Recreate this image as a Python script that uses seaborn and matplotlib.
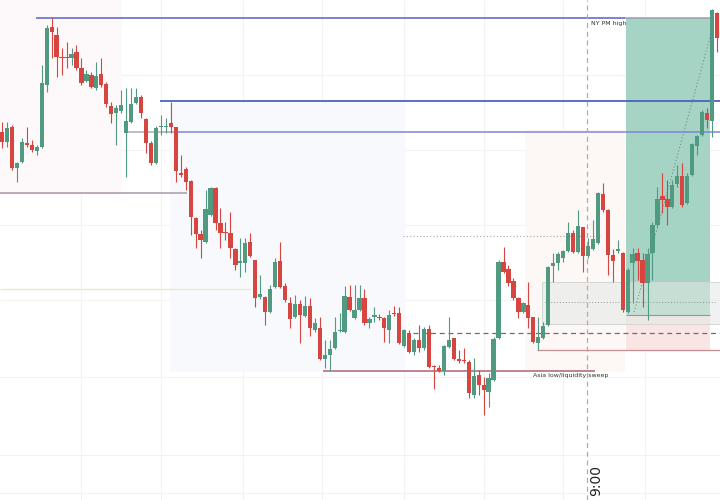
import numpy as np
import pandas as pd
import matplotlib
matplotlib.use("Agg")
import matplotlib.pyplot as plt
import seaborn as sns

# OHLC (price units = chart points)
opens = [368, 358, 373, 332, 338, 357, 355, 349, 353, 415, 473, 465, 443, 443, 442, 448, 432, 419, 425, 412,
         426, 416, 394, 387, 389, 367, 378, 397, 403, 381, 357, 337, 373, 373, 377, 373, 327, 331, 319, 282,
         266, 258, 285, 312, 277, 268, 267, 251, 237, 237, 258, 240, 203, 203, 188, 213, 239, 214, 197, 183,
         196, 184, 194, 170, 172, 141, 145, 152, 169, 168, 203, 182, 190, 202, 177, 183, 183, 182, 170, 187,
         187, 154, 167, 148, 160, 152, 171, 134, 132, 129, 153, 162, 141, 140, 138, 105, 125, 115, 108, 120,
         162, 238, 231, 219, 202, 188, 195, 183, 157, 162, 175, 234, 237, 242, 249, 267, 248, 273, 244, 251,
         257, 306, 290, 245, 249, 247, 188, 237, 247, 240, 217, 247, 275, 304, 301, 293, 316, 324, 297, 325,
         354, 365, 387, 379, 487]
highs = [378, 378, 375, 338, 362, 373, 360, 355, 435, 475, 482, 473, 452, 458, 452, 455, 442, 430, 428, 438,
         442, 418, 398, 395, 410, 412, 412, 412, 405, 382, 359, 374, 385, 382, 398, 373, 345, 333, 320, 283,
         270, 310, 313, 313, 292, 278, 288, 252, 262, 262, 267, 240, 225, 204, 215, 242, 258, 217, 203, 205,
         200, 204, 202, 182, 183, 160, 160, 183, 187, 214, 215, 215, 215, 211, 183, 193, 186, 183, 190, 194,
         193, 171, 170, 162, 175, 173, 175, 135, 135, 155, 183, 162, 150, 152, 140, 142, 130, 123, 127, 163,
         240, 253, 235, 222, 203, 198, 218, 183, 183, 178, 234, 247, 248, 250, 278, 270, 290, 273, 262, 280,
         308, 317, 291, 251, 260, 248, 232, 252, 252, 247, 252, 278, 313, 327, 320, 320, 335, 337, 327, 357,
         365, 390, 392, 491, 488]
lows = [352, 353, 330, 318, 337, 353, 348, 345, 352, 408, 442, 423, 425, 432, 435, 430, 415, 418, 412, 410,
        413, 393, 377, 355, 387, 323, 377, 396, 382, 347, 335, 336, 365, 367, 367, 318, 323, 310, 265, 252,
        242, 257, 284, 270, 252, 260, 242, 230, 223, 228, 243, 193, 201, 175, 187, 212, 212, 198, 172, 182,
        157, 183, 164, 168, 140, 132, 130, 151, 168, 167, 189, 181, 189, 175, 172, 178, 180, 158, 157, 184,
        156, 153, 147, 145, 148, 150, 132, 111, 128, 125, 152, 140, 137, 137, 102, 102, 105, 85, 93, 119,
        161, 227, 214, 200, 182, 187, 172, 157, 150, 161, 174, 218, 230, 238, 248, 247, 247, 228, 242, 250,
        256, 288, 225, 218, 247, 188, 187, 197, 220, 193, 180, 220, 273, 287, 275, 292, 313, 293, 296, 324,
        345, 364, 372, 363, 448]
closes = [358, 372, 332, 337, 358, 355, 350, 353, 417, 472, 468, 443, 442, 442, 446, 432, 417, 426, 413, 424,
          415, 396, 386, 392, 395, 379, 396, 403, 387, 357, 337, 372, 374, 374, 373, 329, 325, 318, 283, 266,
          260, 291, 312, 277, 267, 267, 252, 235, 239, 257, 244, 202, 206, 188, 211, 238, 213, 200, 181, 196,
          185, 194, 172, 177, 141, 145, 151, 168, 170, 204, 190, 190, 202, 177, 181, 185, 182, 172, 185, 186,
          157, 170, 148, 160, 152, 171, 133, 133, 129, 154, 160, 141, 139, 139, 107, 124, 115, 110, 122, 161,
          238, 228, 217, 202, 188, 197, 182, 158, 163, 174, 233, 237, 246, 249, 267, 248, 274, 244, 254, 261,
          307, 290, 245, 239, 251, 190, 230, 246, 239, 217, 246, 275, 301, 300, 293, 315, 324, 295, 324, 356,
          364, 388, 380, 490, 462]

# key levels drawn on the chart
ny_pm_high = 482
upper_level = 399
mid_level = 368
left_level = 307
yellow_level = 211
asia_low = 129
dashed_level = 167
dotted_level = 264
entry_price = 185
target_price = 482
stop_price = 150

df = pd.DataFrame({"open": opens, "high": highs, "low": lows, "close": closes})
df["bar"] = np.arange(len(df))
df["up"] = df["close"] >= df["open"]

green = "#4f9a80"
red = "#d6453f"

sns.set_theme(style="white")
plt.rcParams["font.family"] = ["DejaVu Sans"]

fig = plt.figure(figsize=(7.2, 5), dpi=100)
ax = fig.add_axes([0, 0, 1, 1])
ax.set_xlim(-0.4, 144.6)
ax.set_ylim(0, 500)
ax.set_facecolor("white")

# faint grid
for gx in [16, 32, 48.5, 64.5, 81, 97, 113, 129.5]:
    ax.axvline(gx, color="#f3f3f6", lw=0.8, zorder=0)
for gy in [425, 350, 275, 200, 123, 45, 7]:
    ax.axhline(gy, color="#f3f3f6", lw=0.8, zorder=0)

# session shading (very faint)
ax.fill_between([-0.4, 24.2], 305, 500, color="#fdf8fa", zorder=0.5, lw=0)
ax.fill_between([33.8, 81.2], 128, 400, color="#f8f9fd", zorder=0.5, lw=0)
ax.fill_between([105.3, 125.5], 128, 370, color="#fdf7f6", zorder=0.5, lw=0)

# long position box
ax.fill_between([125.7, 142.6], entry_price, target_price, color="#a5d3c4", zorder=0.8, lw=0)
ax.fill_between([125.7, 142.6], stop_price, entry_price, color="#fae5e5", zorder=0.8, lw=0)
ax.hlines(entry_price, 125.7, 142.6, color="#8a9a94", lw=0.8, zorder=1)

# gray zone box
ax.fill_between([108.8, 144.6], 176, 218, color="#e3e9e4", alpha=0.55, zorder=0.9, lw=0)
ax.hlines([176, 218], 108.8, 144.6, color="#d3d8d4", lw=0.7, zorder=1)
ax.vlines(108.8, 176, 218, color="#d3d8d4", lw=0.7, zorder=1)
ax.hlines(198, 109.3, 143.6, color="#8f9690", lw=0.7, ls=(0, (1, 2)), zorder=1)

# horizontal levels
ax.hlines(ny_pm_high, 6.8, 125.5, color="#5b5fc7", lw=1.1, zorder=1)
ax.hlines(ny_pm_high, 125.5, 143, color="#9a9cb8", lw=1.1, zorder=1)
ax.hlines(upper_level, 31.8, 144.6, color="#4d62c4", lw=1.3, zorder=1)
ax.hlines(mid_level, 25, 35, color="#a7a9b8", lw=1.1, zorder=1)
ax.hlines(mid_level, 35, 144.6, color="#7e86d8", lw=1.1, zorder=1)
ax.hlines(left_level, -0.4, 37.3, color="#a59aa8", lw=1.1, zorder=1)
ax.hlines(yellow_level, -0.4, 50, color="#eeeaa8", lw=0.9, zorder=1)
ax.hlines(asia_low, 64.6, 119.4, color="#b87b86", lw=1.3, zorder=1)
ax.hlines(dashed_level, 82.8, 144.6, color="#6f6f6f", lw=0.9, ls=(0, (4, 3)), zorder=1)
ax.hlines(dotted_level, 80.8, 120.4, color="#a8a8a8", lw=0.8, ls=(0, (1, 2)), zorder=1)
ax.hlines(stop_price, 107.7, 144.6, color="#c48e92", lw=0.9, zorder=1)

# session open marker
ax.axvline(117.8, color="#b8a8a8", lw=0.9, ls=(0, (4, 3)), zorder=1)

# path from entry to target
ax.plot([127.3, 143.0], [188, 470], color="#7b8a85", lw=0.8, ls=(0, (1, 2)), zorder=1.5)

# candles
colors = np.where(df["up"], green, red)
ax.vlines(df["bar"], df["low"], df["high"], colors=colors, lw=0.8, zorder=2)
body_low = df[["open", "close"]].min(axis=1)
body_h = (df["open"] - df["close"]).abs().clip(lower=1.2)
ax.bar(df["bar"], body_h, bottom=body_low, width=0.86, color=colors, lw=0, zorder=3)

# labels
ax.text(118.6, 479, "NY PM high", fontsize=4.5, color="#333333", ha="left", va="top", zorder=4)
ax.text(107.0, 124, "Asia low/liquidity sweep", fontsize=4.5, color="#333333", ha="left", va="center", zorder=4)
ax.text(119.6, 19, "9:00", fontsize=10, color="#222222", rotation=90, ha="center", va="center", zorder=4)

ax.set_xticks([])
ax.set_yticks([])
for s in ax.spines.values():
    s.set_visible(False)

fig.savefig("out.png", dpi=100)
